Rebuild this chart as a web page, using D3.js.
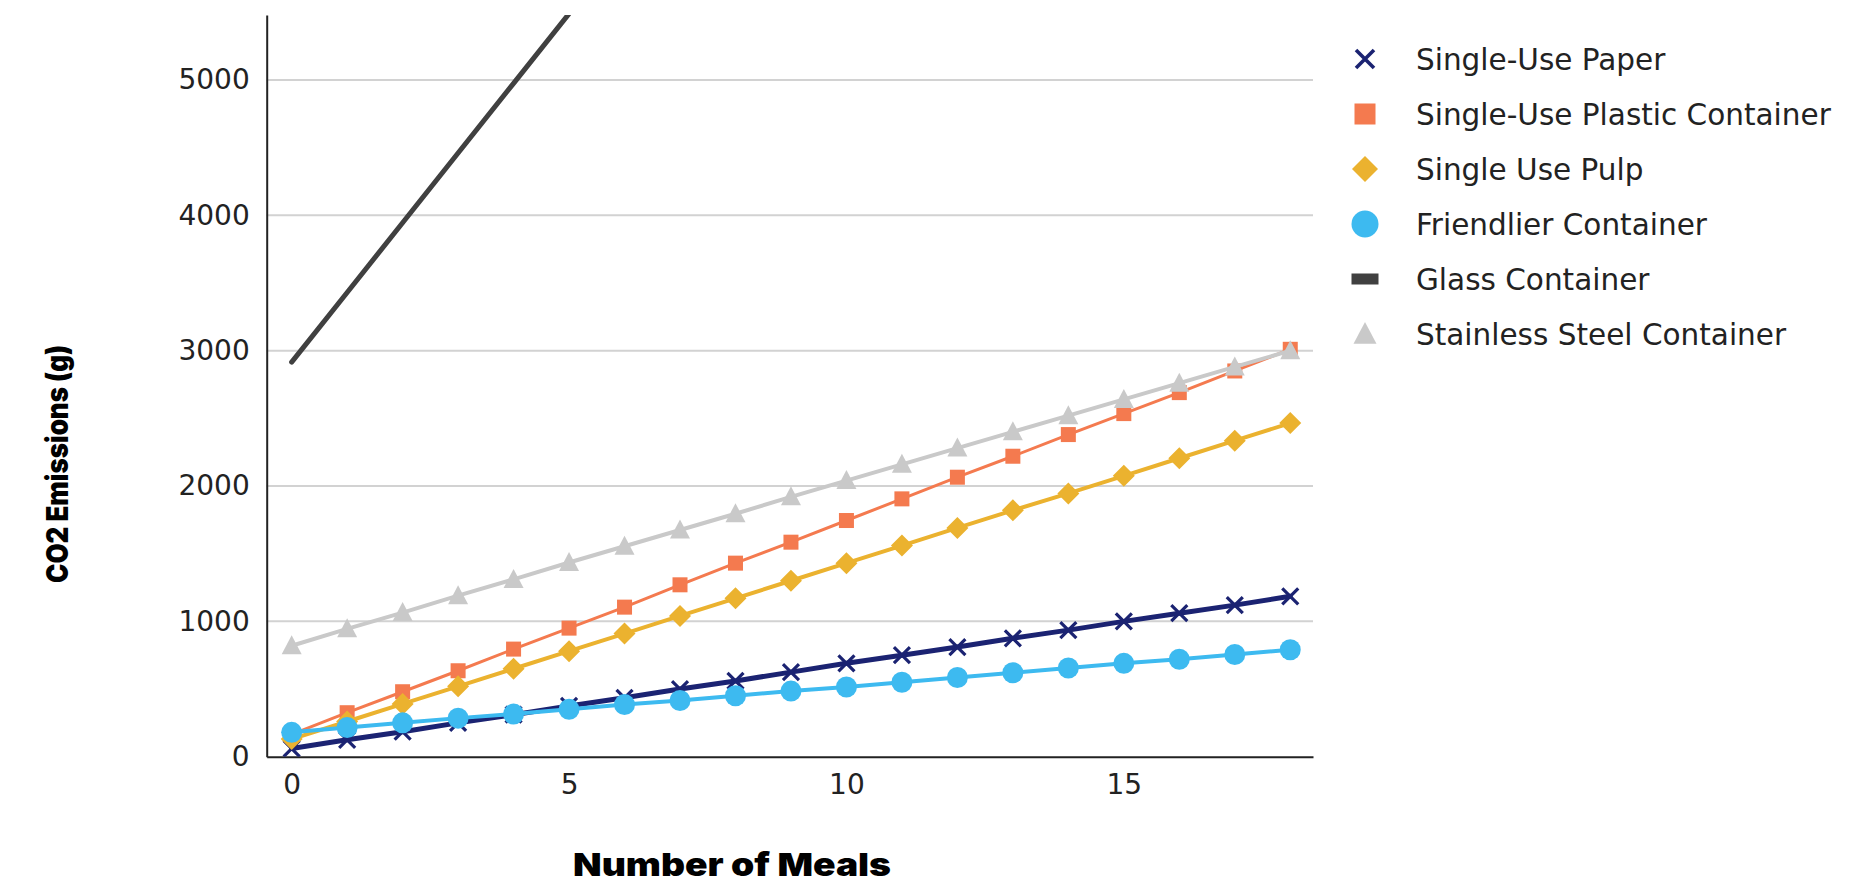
<!DOCTYPE html>
<html>
<head>
<meta charset="utf-8">
<script src="https://cdn.jsdelivr.net/npm/d3@7"></script>
<style>
  html, body { margin: 0; padding: 0; background: #ffffff; }
  svg { display: block; }
  .tick text { font-family: "DejaVu Sans", Verdana, sans-serif; font-size: 28px; fill: #222; }
  .legend text { font-family: "DejaVu Sans", Verdana, sans-serif; font-size: 29.5px; fill: #222; }
  .axis-title { font-family: Inter, "DejaVu Sans", sans-serif; font-weight: 900; fill: #000; }
</style>
</head>
<body>
<svg id="chart" width="1875" height="886"></svg>
<script>
// Meals eaten (x) and cumulative CO2 emissions in grams for each container type
const meals = [0, 1, 2, 3, 4, 5, 6, 7, 8, 9, 10, 11, 12, 13, 14, 15, 16, 17, 18];
const paper      = [60, 125, 185, 250, 310, 375, 435, 500, 560, 625, 690, 750, 810, 875, 935, 1000, 1060, 1120, 1185];
const plastic    = [165, 325, 480, 635, 795, 950, 1105, 1270, 1430, 1585, 1745, 1905, 2065, 2220, 2380, 2535, 2690, 2850, 3010];
const pulp       = [130, 260, 390, 520, 650, 780, 910, 1040, 1170, 1300, 1430, 1560, 1690, 1820, 1945, 2075, 2205, 2335, 2465];
const friendlier = [180, 215, 250, 285, 315, 350, 385, 415, 450, 485, 515, 550, 585, 620, 655, 690, 720, 755, 790];
const glass      = [2915, 3430, 3945, 4460, 4975, 5490];
const steel      = [820, 945, 1065, 1190, 1310, 1435, 1555, 1675, 1795, 1920, 2040, 2160, 2280, 2400, 2520, 2640, 2760, 2880, 3000];

const seriesNames  = ["Single-Use Paper", "Single-Use Plastic Container", "Single Use Pulp",
                      "Friendlier Container", "Glass Container", "Stainless Steel Container"];
const seriesColors = ["#1b2372", "#f47a4f", "#ebb22f", "#3dbaf0", "#404040", "#c9c9c9"];
const seriesShapes = ["cross", "square", "diamond", "circle", "none", "triangle"];
const seriesWidths = [5, 3, 4, 4, 5, 4];
const seriesValues = [paper, plastic, pulp, friendlier, glass, steel];

const yTicks = [0, 1000, 2000, 3000, 4000, 5000];
const xTicks = [0, 5, 10, 15];

const svg = d3.select("#chart");

const plot = { left: 266.7, right: 1313, top: 15, bottom: 756.7 };

const x = d3.scaleLinear().domain([-0.45, 18.41]).range([plot.left, plot.right]);
const y = d3.scaleLinear().domain([0, 5480]).range([plot.bottom, plot.top]);

// clip region for the plot
svg.append("defs").append("clipPath").attr("id", "plot-clip")
  .append("rect")
  .attr("x", plot.left).attr("y", plot.top)
  .attr("width", plot.right - plot.left).attr("height", plot.bottom - plot.top);

// horizontal gridlines
svg.append("g").selectAll("line")
  .data(yTicks.filter(d => d > 0))
  .join("line")
  .attr("x1", plot.left).attr("x2", plot.right)
  .attr("y1", d => y(d)).attr("y2", d => y(d))
  .attr("stroke", "#d2d2d2").attr("stroke-width", 2);

// axes
const yAxis = svg.append("g")
  .attr("transform", `translate(${plot.left},0)`)
  .call(d3.axisLeft(y).tickValues(yTicks).tickSize(0).tickPadding(17).tickFormat(d3.format("d")));
yAxis.select(".domain").attr("stroke", "#222").attr("stroke-width", 2);

const xAxis = svg.append("g")
  .attr("transform", `translate(0,${plot.bottom})`)
  .call(d3.axisBottom(x).tickValues(xTicks).tickSize(0).tickPadding(17).tickFormat(d3.format("d")));
xAxis.select(".domain").attr("stroke", "#222").attr("stroke-width", 2);

// marker drawing
function drawMarker(sel, shape, color, s) {
  if (shape === "cross") {
    const h = s / 2;
    sel.append("path")
      .attr("d", `M${-h},${-h}L${h},${h}M${-h},${h}L${h},${-h}`)
      .attr("stroke", color).attr("stroke-width", s * 0.2).attr("fill", "none");
  } else if (shape === "square") {
    sel.append("rect").attr("x", -s / 2).attr("y", -s / 2).attr("width", s).attr("height", s).attr("fill", color);
  } else if (shape === "diamond") {
    const h = s / 2;
    sel.append("path").attr("d", `M0,${-h}L${h},0L0,${h}L${-h},0Z`).attr("fill", color);
  } else if (shape === "circle") {
    sel.append("circle").attr("r", s / 2).attr("fill", color);
  } else if (shape === "triangle") {
    const h = s / 2;
    sel.append("path").attr("d", `M0,${-h * 1.05}L${h},${h * 0.85}L${-h},${h * 0.85}Z`).attr("fill", color);
  }
}

const markerSizes = [16, 15, 22, 21, 0, 20];

const line = d3.line().x(d => x(d.m)).y(d => y(d.v));

const dataLayer = svg.append("g").attr("clip-path", "url(#plot-clip)");

seriesValues.forEach((vals, i) => {
  const pts = vals.map((v, j) => ({ m: meals[j], v }));
  const g = dataLayer.append("g");
  g.append("path")
    .datum(pts)
    .attr("d", line)
    .attr("fill", "none")
    .attr("stroke", seriesColors[i])
    .attr("stroke-width", seriesWidths[i])
    .attr("stroke-linejoin", "round")
    .attr("stroke-linecap", "round");
  if (seriesShapes[i] !== "none") {
    g.selectAll("g.pt")
      .data(pts)
      .join("g")
      .attr("class", "pt")
      .attr("transform", d => `translate(${x(d.m)},${y(d.v)})`)
      .each(function () { drawMarker(d3.select(this), seriesShapes[i], seriesColors[i], markerSizes[i]); });
  }
});

// legend
const legend = svg.append("g").attr("class", "legend");
const legendSizes = [18, 21, 26, 27, 0, 23];
seriesNames.forEach((name, i) => {
  const row = legend.append("g").attr("transform", `translate(1365,${59 + i * 55})`);
  if (seriesShapes[i] === "none") {
    row.append("rect").attr("x", -13.5).attr("y", -5.5).attr("width", 27).attr("height", 11).attr("fill", seriesColors[i]);
  } else {
    drawMarker(row, seriesShapes[i], seriesColors[i], legendSizes[i]);
  }
  row.append("text").attr("x", 51).attr("dy", "0.36em").text(name);
});

// axis titles
svg.append("text")
  .attr("class", "axis-title")
  .attr("x", 732).attr("y", 876)
  .attr("text-anchor", "middle")
  .attr("font-size", 32)
  .attr("textLength", 318)
  .attr("lengthAdjust", "spacingAndGlyphs")
  .text("Number of Meals");

svg.append("text")
  .attr("class", "axis-title")
  .attr("transform", "translate(68,464) rotate(-90)")
  .attr("text-anchor", "middle")
  .attr("font-size", 30)
  .attr("textLength", 238)
  .attr("lengthAdjust", "spacingAndGlyphs")
  .text("CO2 Emissions (g)");
</script>
</body>
</html>
